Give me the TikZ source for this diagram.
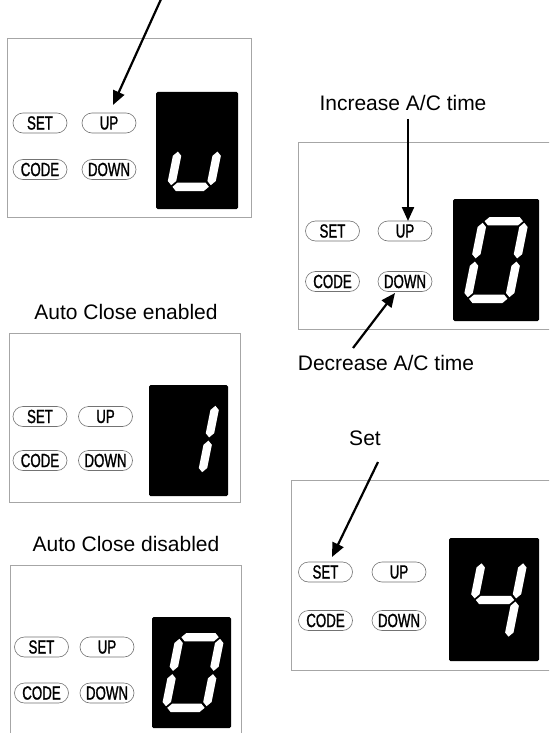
\documentclass[tikz,border=0pt]{standalone}
\usepackage{fontspec}
\setmainfont{Liberation Sans}
\newfontfamily\btnfont[FakeStretch=0.7,FakeBold=1.2]{Liberation Sans}
\usetikzlibrary{arrows.meta,shapes.misc}

\tikzset{
  panelframe/.style={draw=black!35, line width=0.9pt},
  dispbox/.style={fill=black, rounded corners=1.5pt},
  btn/.style={rounded rectangle, draw=black!55, line width=0.6pt,
    minimum width=54pt, minimum height=20pt, inner sep=0pt,
    font=\btnfont\fontsize{19}{19}\selectfont},
  lbl/.style={font=\fontsize{21}{24}\selectfont, inner sep=0pt},
  arr/.style={line width=2.2pt, -{Triangle[length=14pt,width=12pt]}},
  seg/.style={fill=white},
}

\def\dT{4.2}
\def\dG{1.6}
\newcommand\dhseg[1]{%
  \fill[seg] ({-\dHW+\dT+\dG},{#1}) -- ({-\dHW+2*\dT+\dG},{#1-\dT}) --
    ({\dHW-2*\dT-\dG},{#1-\dT}) -- ({\dHW-\dT-\dG},{#1}) --
    ({\dHW-2*\dT-\dG},{#1+\dT}) -- ({-\dHW+2*\dT+\dG},{#1+\dT}) -- cycle;}
\newcommand\dvseg[3]{%
  \fill[seg] ({#1},{#2}) -- ({#1+\dT},{#2+\dT}) -- ({#1+\dT},{#3-\dT}) --
    ({#1},{#3}) -- ({#1-\dT},{#3-\dT}) -- ({#1-\dT},{#2+\dT}) -- cycle;}
\newcommand\dsega{\dhseg{-\dHH+\dT}}
\newcommand\dsegd{\dhseg{\dHH-\dT}}
\newcommand\dsegg{\dhseg{0}}
\newcommand\dsegb{\dvseg{\dHW-\dT}{-\dHH+\dT+\dG}{-\dG}}
\newcommand\dsegc{\dvseg{\dHW-\dT}{\dG}{\dHH-\dT-\dG}}
\newcommand\dsege{\dvseg{-\dHW+\dT}{\dG}{\dHH-\dT-\dG}}
\newcommand\dsegf{\dvseg{-\dHW+\dT}{-\dHH+\dT+\dG}{-\dG}}
\newcommand\digitsegs[5]{%
  \begin{scope}[shift={(#1,#2)}, xslant=0.2]
    \pgfmathsetmacro\dHW{#3/2}
    \pgfmathsetmacro\dHH{#4/2}
    \foreach \s in {#5}{\csname dseg\s\endcsname}
  \end{scope}}

\begin{document}
\begin{tikzpicture}[x=1pt,y=-1pt]
\useasboundingbox (0,0) rectangle (549,733);
\clip (0,0) rectangle (549,733);
\fill[white] (0,0) rectangle (549,733);

% ---------- Panel 1 (top left) ----------
\draw[panelframe] (7,38) rectangle (251,217);
\fill[dispbox] (156,92) rectangle (238,209);
\digitsegs{198}{150}{48}{82}{c,d,e}
\node[btn] (p1set)  at (40,123)   {SET};
\node[btn] (p1up)   at (109,123)  {UP};
\node[btn] (p1code) at (40,169.5) {CODE};
\node[btn] (p1down) at (109,169.5){DOWN};
\coordinate (a1s) at (162,-3);
\coordinate (a1e) at (113,105);
\draw[arr] (a1s) -- (a1e);

% ---------- Panel 2 (top right) ----------
\node[lbl] (inc) at (403,103) {Increase A/C time};
\draw[panelframe] (298,142) rectangle (560,329);
\fill[dispbox] (453,199) rectangle (539,321);
\digitsegs{496}{260}{50}{86}{a,b,c,d,e,f}
\node[btn] (p2set)  at (332.5,231)   {SET};
\node[btn] (p2up)   at (405,231)     {UP};
\node[btn] (p2code) at (332.5,281.5) {CODE};
\node[btn] (p2down) at (405,281.5)   {DOWN};
\coordinate (a2s) at (408,119);
\coordinate (a2e) at (408,221);
\draw[arr] (a2s) -- (a2e);
\node[lbl] (dec) at (386,363) {Decrease A/C time};
\coordinate (a3s) at (353,348);
\coordinate (a3e) at (395,293);
\draw[arr] (a3s) -- (a3e);

% ---------- Panel 3 (Auto Close enabled) ----------
\node[lbl] (ena) at (126,312) {Auto Close enabled};
\draw[panelframe] (9,333) rectangle (240,502);
\fill[dispbox] (149,385) rectangle (228,496);
\digitsegs{188}{439}{50}{78}{b,c}
\node[btn] (p3set)  at (40,416.5)    {SET};
\node[btn] (p3up)   at (105.5,416.5) {UP};
\node[btn] (p3code) at (40,460.5)    {CODE};
\node[btn] (p3down) at (105.5,460.5) {DOWN};

% ---------- Panel 4 (Auto Close disabled) ----------
\node[lbl] (dis) at (126,544) {Auto Close disabled};
\draw[panelframe] (10,565) rectangle (241,745);
\fill[dispbox] (152,617) rectangle (231,728);
\digitsegs{193}{672.5}{49}{79}{a,b,c,d,e,f}
\node[btn] (p4set)  at (41.5,647) {SET};
\node[btn] (p4up)   at (107,647)  {UP};
\node[btn] (p4code) at (41.5,693) {CODE};
\node[btn] (p4down) at (107,693)  {DOWN};

% ---------- Panel 5 (Set) ----------
\node[lbl] (setl) at (365,438) {Set};
\draw[panelframe] (291,480) rectangle (560,670);
\fill[dispbox] (449,538) rectangle (539,661);
\digitsegs{495}{600}{50}{85}{b,c,f,g}
\node[btn] (p5set)  at (325.5,572)   {SET};
\node[btn] (p5up)   at (399,572)     {UP};
\node[btn] (p5code) at (325.5,620.5) {CODE};
\node[btn] (p5down) at (399,620.5)   {DOWN};
\coordinate (a4s) at (378,462);
\coordinate (a4e) at (332,557);
\draw[arr] (a4s) -- (a4e);
\end{tikzpicture}
\end{document}
